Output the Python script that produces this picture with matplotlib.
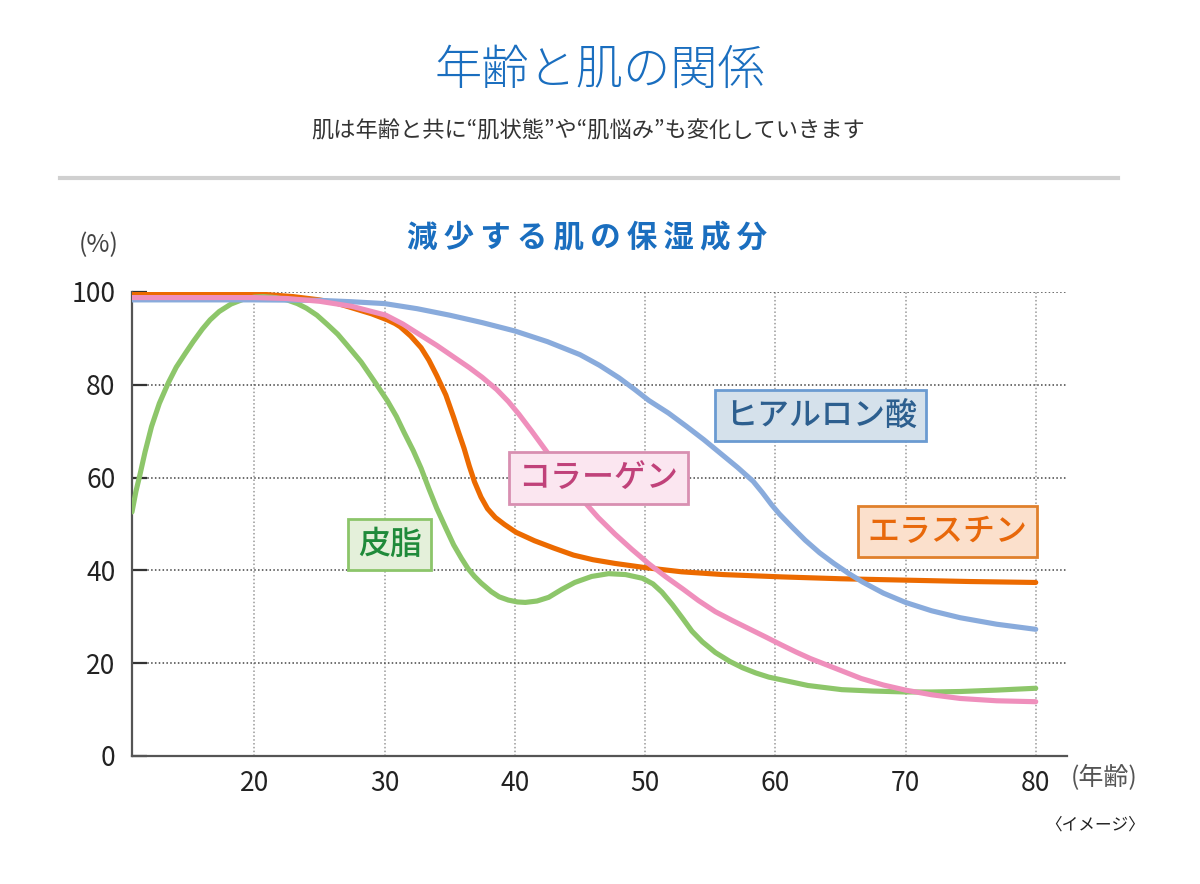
import matplotlib
matplotlib.use("Agg")
import matplotlib.pyplot as plt
from matplotlib.lines import Line2D

plt.rcParams['font.family'] = ['Noto Sans CJK JP', 'DejaVu Sans']

# ---------------- data ----------------
title = "年齢と肌の関係"
subtitle = "肌は年齢と共に“肌状態”や“肌悩み”も変化していきます"
chart_title = "減少する肌の保湿成分"
x_ticks = [20, 30, 40, 50, 60, 70, 80]
y_ticks = [0, 20, 40, 60, 80, 100]

hyaluronic_age = [10.6, 15, 20, 25, 27.5, 30, 32.5, 35, 37.5, 40, 42.5, 45, 46.5, 48, 49.2,
                  50.3, 51.8, 53.2, 54.5, 55.8, 57.1, 58.3, 59.0, 59.7, 60.3, 61.3, 62.3,
                  63.4, 64.5, 65.6, 66.7, 68.3, 70, 72, 74.2, 77, 80]
hyaluronic_val = [98.3, 98.3, 98.3, 98.2, 97.9, 97.5, 96.4, 95.0, 93.4, 91.6, 89.3, 86.5, 84.2,
                  81.5, 79.0, 76.6, 73.9, 71.0, 68.2, 65.2, 62.2, 59.2, 56.8, 54.2, 52.2,
                  49.3, 46.5, 43.8, 41.5, 39.4, 37.5, 35.1, 33.1, 31.3, 29.8, 28.4, 27.3]

collagen_age = [10.6, 15, 20, 22.5, 25, 27.5, 30.1, 31.4, 32.7, 34, 35.3, 36.5, 37.5, 38.6,
                39.5, 40.3, 41.3, 42.6, 43.9, 45.2, 46.4, 47.7, 49, 50.3, 51.6, 52.9, 54.1,
                55.4, 56.7, 58.0, 59.3, 60.5, 61.6, 62.7, 64.7, 66.6, 68.3, 70, 72, 74.2,
                77, 80]
collagen_val = [98.8, 98.8, 98.8, 98.6, 98.0, 96.9, 95.0, 93.1, 90.8, 88.5, 86.0, 83.7, 81.6,
                79.0, 76.4, 73.7, 70.0, 65.0, 59.8, 55.2, 51.4, 47.8, 44.5, 41.4, 38.6, 36.0,
                33.5, 31.1, 29.2, 27.4, 25.6, 23.9, 22.4, 21.0, 18.8, 16.7, 15.3, 14.2, 13.2,
                12.4, 11.9, 11.7]

elastin_age = [10.6, 13, 16, 18.5, 20.7, 23, 25, 26.3, 27.6, 29, 30.2, 30.8, 31.2, 32, 32.8,
               33.4, 34.0, 34.7, 35.3, 35.7, 36.1, 36.5, 36.9, 37.4, 37.9, 38.5, 39.2, 40.1,
               41.5, 43.0, 44.5, 46, 47.7, 50, 52.8, 56, 60.5, 65, 70, 75, 80]
elastin_val = [99.5, 99.8, 99.9, 99.8, 99.5, 99.0, 98.3, 97.6, 96.5, 95.3, 94.0, 93.2, 92.5,
               90.5, 88.0, 85.3, 82.0, 77.8, 73.0, 69.6, 66.3, 62.5, 59.1, 55.8, 53.3, 51.4,
               49.9, 48.2, 46.4, 44.8, 43.3, 42.3, 41.5, 40.6, 39.7, 39.1, 38.6, 38.2, 37.9,
               37.6, 37.4]

sebum_age = [10.6, 10.9, 11.2, 11.6, 12.1, 12.7, 13.4, 14.0, 14.7, 15.3, 16.0, 16.6, 17.3,
             18.2, 19.2, 20.0, 20.7, 21.6, 22.5, 23.3, 24.0, 24.8, 25.6, 26.4, 27.1, 28.2,
             29.2, 30.2, 30.9, 31.5, 32.2, 32.8, 33.4, 34.0, 34.7, 35.3, 35.9, 36.4, 36.9,
             37.4, 38.2, 38.8, 39.5, 40.2, 40.8, 41.7, 42.6, 43.6, 44.6, 45.9, 47.2, 48.5,
             49.8, 50.6, 51.3, 52.1, 52.9, 53.6, 54.4, 55.4, 56.5, 57.5, 58.5, 59.5, 60.5,
             62.5, 65.1, 67.5, 70, 72, 74.2, 77, 80]
sebum_val = [52.6, 57.0, 60.5, 65.5, 71.0, 76.0, 80.5, 83.8, 86.8, 89.3, 92.0, 94.0, 95.8,
             97.4, 98.5, 98.9, 99.0, 98.8, 98.3, 97.5, 96.5, 95.0, 93.0, 90.9, 88.6, 84.9,
             80.8, 76.6, 73.2, 69.7, 65.8, 62.0, 57.6, 53.4, 49.1, 45.5, 42.6, 40.4, 38.7,
             37.3, 35.4, 34.3, 33.6, 33.2, 33.1, 33.4, 34.2, 35.9, 37.4, 38.7, 39.3, 39.1,
             38.3, 37.1, 35.3, 32.6, 29.6, 26.9, 24.6, 22.3, 20.4, 19.0, 17.9, 17.0, 16.4,
             15.2, 14.3, 14.0, 13.8, 13.8, 13.9, 14.2, 14.6]

labels = ["ヒアルロン酸", "コラーゲン", "エラスチン", "皮脂"]

# ---------------- figure ----------------
fig = plt.figure(figsize=(12, 8.84), dpi=100)
ax = fig.add_axes([132/1200, 128/884, 935/1200, 464/884])

common = dict(lw=3.7, solid_capstyle="round", solid_joinstyle="round")
ax.plot(elastin_age, elastin_val, color="#ec6a00", zorder=3, **common)
ax.plot(sebum_age, sebum_val, color="#8dc66a", zorder=3.2, **common)
ax.plot(hyaluronic_age, hyaluronic_val, color="#89abdc", zorder=3.5, **common)
ax.plot(collagen_age, collagen_val, color="#ef8fbc", zorder=4, **common)

ax.set_xlim(10.6, 82.4)
ax.set_ylim(0, 100)
ax.set_xticks(x_ticks)
ax.set_yticks(y_ticks)
ax.set_xticklabels([str(v) for v in x_ticks])
ax.set_yticklabels([str(v) for v in y_ticks])

for s in ["top", "right"]:
    ax.spines[s].set_visible(False)
for s in ["left", "bottom"]:
    ax.spines[s].set_color("#555555")
    ax.spines[s].set_linewidth(1.6)

ax.tick_params(axis="y", direction="in", length=11, width=1.6, color="#333333",
               labelsize=19, labelcolor="#222222", pad=12)
ax.tick_params(axis="x", length=0, labelsize=19, labelcolor="#222222", pad=10)

ax.yaxis.grid(True, linestyle=(0, (1, 1.5)), color="#444444", lw=1.1)
ax.xaxis.grid(True, linestyle=(0, (1, 1.5)), color="#999999", lw=1.1)
ax.set_axisbelow(True)

# series labels
box_specs = [
    (labels[0], 63.5, 73.3, "#d5e1eb", "#6b9bd1", "#2d5f8f"),
    (labels[1], 46.4, 59.9, "#fbe6f0", "#d88fb1", "#c0427a"),
    (labels[2], 73.2, 48.3, "#fbe0cc", "#e0802c", "#e8680a"),
    (labels[3], 30.4, 45.5, "#e4f0da", "#8cc56a", "#1f8a3a"),
]
for txt, xa, ya, fc, ec, tc in box_specs:
    ax.text(xa, ya, txt, ha="center", va="center", fontsize=23, fontweight="medium",
            color=tc, zorder=6,
            bbox=dict(boxstyle="square,pad=0.3", fc=fc, ec=ec, lw=2))

# titles and annotations
fig.text(600/1200, 1 - 70/884, title, ha="center", va="center", fontsize=34,
         fontweight="light", color="#1a6ebf")
fig.text(588/1200, 1 - 131/884, subtitle, ha="center", va="center", fontsize=16,
         color="#333333")
fig.add_artist(Line2D([60/1200, 1118/1200], [1 - 178/884, 1 - 178/884],
                      color="#d0d0d0", lw=3))
fig.text(587/1200, 1 - 238/884, "\u2009".join(chart_title), ha="center", va="center",
         fontsize=22, fontweight="bold", color="#1a6ebf")
fig.text(99/1200, 1 - 245/884, "(%)", ha="center", va="center", fontsize=18,
         color="#444444")
fig.text(1104/1200, 1 - 778/884, "(年齢)", ha="center", va="center", fontsize=18,
         color="#555555")
fig.text(1095/1200, 1 - 825/884, "〈イメージ〉", ha="center", va="center", fontsize=12,
         color="#222222")

fig.savefig("out.png", dpi=100)
